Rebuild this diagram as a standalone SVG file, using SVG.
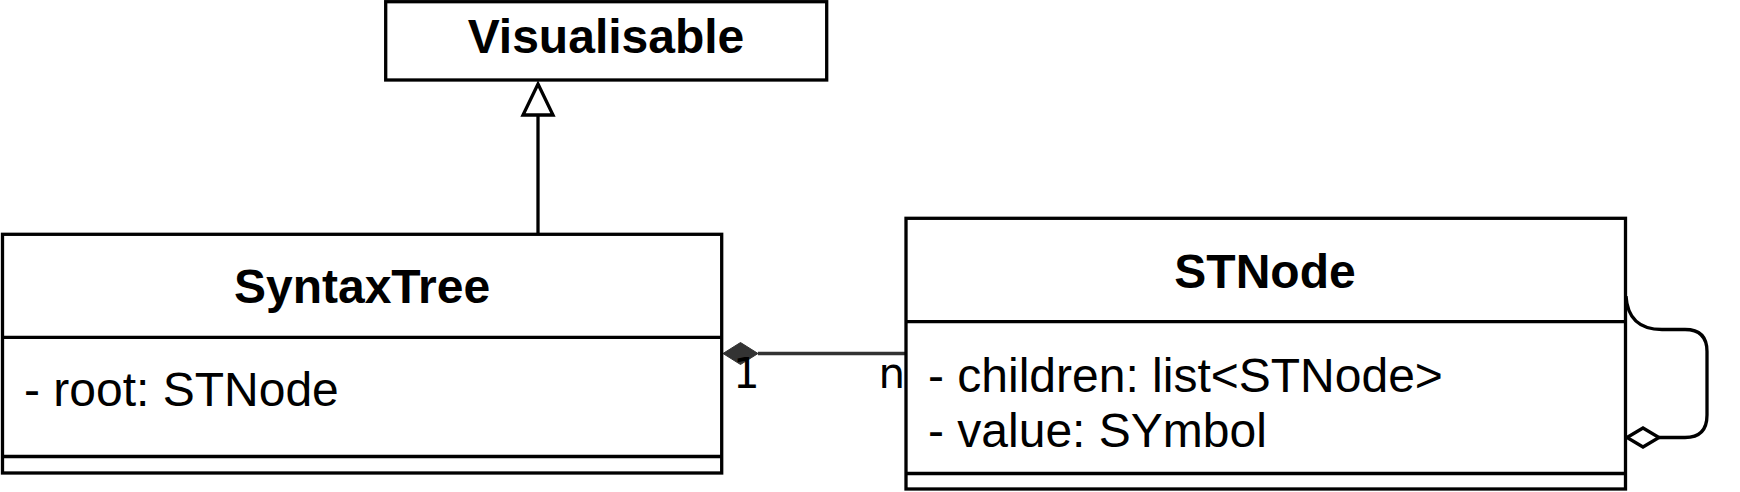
<svg xmlns="http://www.w3.org/2000/svg" width="1740" height="492" viewBox="0 0 1740 492">
<style>
.box{fill:#fff;stroke:#000;stroke-width:3.3}
.div{stroke:#000;stroke-width:3.3;fill:none}
.title{font-family:"Liberation Sans",Arial,sans-serif;font-weight:bold;font-size:48px;text-anchor:middle;fill:#000}
.attr{font-family:"Liberation Sans",Arial,sans-serif;font-size:48px;fill:#000}
.lbl{font-family:"DejaVu Sans",sans-serif;font-size:42px;fill:#000}
.edge{fill:none;stroke:#000;stroke-width:3.3}
</style>
<rect width="1740" height="492" fill="#fff"/>
<g id="connectors">
  <line class="edge" x1="538" y1="234" x2="538" y2="115"/>
  <polygon points="538,84 553,115 523,115" fill="#fff" stroke="#000" stroke-width="3.3"/>
  <line x1="758" y1="353.5" x2="906" y2="353.5" stroke="#333" stroke-width="3.3"/>
  <polygon points="723,353.5 740.5,342.5 758,353.5 740.5,364.5" fill="#333" stroke="#333" stroke-width="1"/>
  <text class="lbl" x="733" y="388">1</text>
  <text class="lbl" x="905" y="388" text-anchor="end">n</text>
  <path class="edge" d="M1626,296 Q1628,329.5 1662,329.5 L1685,329.5 Q1707,329.5 1707,351.5 L1707,415 Q1707,437.5 1685,437.5 L1659,437.5"/>
  <polygon points="1627,437.5 1643,428 1659,437.5 1643,447" fill="#fff" stroke="#000" stroke-width="3.3"/>
</g>
<g id="Visualisable">
  <rect class="box" x="385.7" y="1.7" width="441" height="78.3"/>
  <text class="title" x="606" y="53">Visualisable</text>
</g>
<g id="SyntaxTree">
  <rect class="box" x="2.5" y="234.3" width="719.2" height="238.7"/>
  <line class="div" x1="2.5" y1="337.3" x2="721.7" y2="337.3"/>
  <line class="div" x1="2.5" y1="456.5" x2="721.7" y2="456.5"/>
  <text class="title" x="362" y="303">SyntaxTree</text>
  <text class="attr" x="24" y="406">- root: STNode</text>
</g>
<g id="STNode">
  <rect class="box" x="906" y="218.3" width="719.5" height="270.7"/>
  <line class="div" x1="906" y1="321.7" x2="1625.5" y2="321.7"/>
  <line class="div" x1="906" y1="473.5" x2="1625.5" y2="473.5"/>
  <text class="title" x="1265" y="288">STNode</text>
  <text class="attr" x="928" y="391.5">- children: list&lt;STNode&gt;</text>
  <text class="attr" x="928" y="447">- value: SYmbol</text>
</g>
</svg>
